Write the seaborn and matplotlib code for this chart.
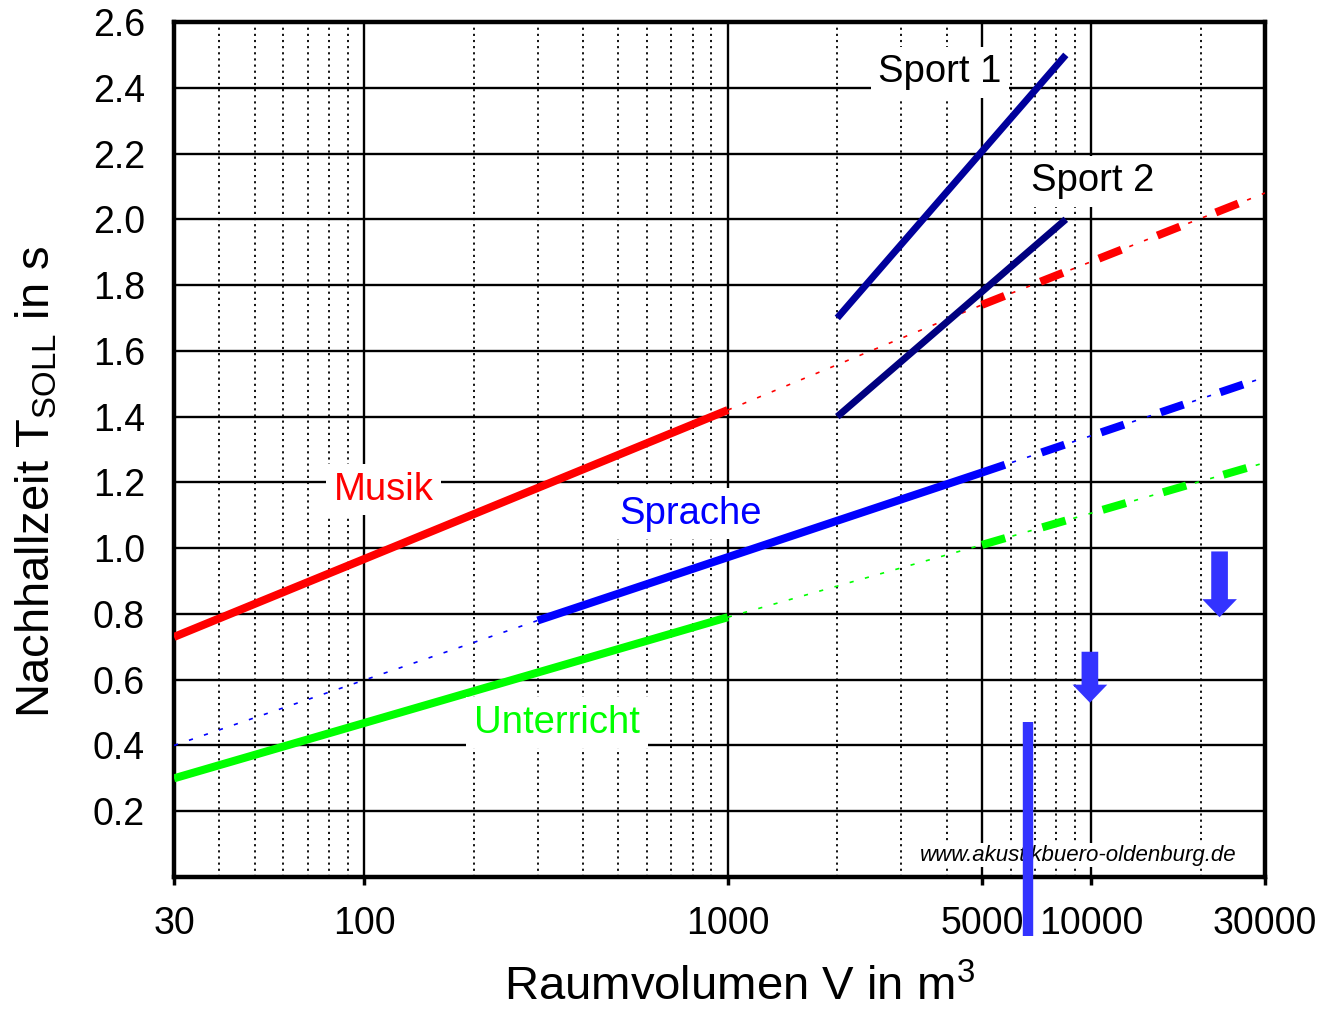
import numpy as np
import pandas as pd
import matplotlib
matplotlib.use("Agg")
import matplotlib.pyplot as plt
import seaborn as sns
from matplotlib.patches import FancyArrowPatch

# ---------------- data ----------------
V_MUSIK = [30, 1000, 5000, 30000]
T_MUSIK = [0.73, 1.42, 1.74, 2.08]
V_SPRACHE = [30, 300, 5000, 30000]
T_SPRACHE = [0.40, 0.78, 1.23, 1.52]
V_UNTERRICHT = [30, 1000, 5000, 30000]
T_UNTERRICHT = [0.30, 0.79, 1.01, 1.26]
V_SPORT1 = [2000, 8500]
T_SPORT1 = [1.70, 2.50]
V_SPORT2 = [2000, 8500]
T_SPORT2 = [1.40, 2.00]

X_TICKS = [30, 100, 1000, 5000, 10000, 30000]
X_TICKLABELS = ["30", "100", "1000", "5000", "10000", "30000"]
Y_TICKS = [0.2, 0.4, 0.6, 0.8, 1.0, 1.2, 1.4, 1.6, 1.8, 2.0, 2.2, 2.4, 2.6]

# arrows: (x, y_start, y_end)
ARROWS = [(22500, 0.99, 0.79), (9900, 0.685, 0.53)]
BAR = (6680, 0.47, -0.18)

# ---------------- style ----------------
sns.set_theme(style="white")
plt.rcParams["font.family"] = ["Liberation Sans", "DejaVu Sans"]
plt.rcParams["mathtext.fontset"] = "custom"
plt.rcParams["mathtext.rm"] = "Liberation Sans"
plt.rcParams["mathtext.it"] = "Liberation Sans:italic"
for k in ["text.color", "axes.labelcolor", "xtick.color", "ytick.color"]:
    plt.rcParams[k] = "black"

fig = plt.figure(figsize=(13.2, 10.1), dpi=100)
ax = fig.add_axes([174 / 1320, 1 - 877 / 1010, (1265 - 174) / 1320, (877 - 22) / 1010])
ax.set_xscale("log")
ax.set_xlim(30, 30000)
ax.set_ylim(0, 2.6)

# grid
minor = [m * 10 ** e for e in range(1, 5) for m in range(2, 10)]
minor = [v for v in minor if 30 < v < 30000 and v not in (100, 1000, 5000, 10000)]
ax.set_xticks(X_TICKS)
ax.set_xticklabels(X_TICKLABELS)
ax.set_xticks(minor, minor=True)
ax.set_yticks(Y_TICKS)
ax.set_yticklabels([f"{v:.1f}" for v in Y_TICKS])
for v in minor:
    ax.axvline(v, color="black", lw=1.3, ls=(0, (1.2, 2.2)), zorder=1)
for v in [100, 1000, 5000, 10000]:
    ax.axvline(v, color="black", lw=1.7, zorder=1)
for v in Y_TICKS[:-1]:
    ax.axhline(v, color="black", lw=1.7, zorder=1)

ax.tick_params(axis="x", which="major", direction="out", length=6, width=2.5,
               labelsize=27, pad=15, colors="black", bottom=True)
ax.tick_params(axis="x", which="minor", length=0)
ax.tick_params(axis="y", which="major", length=0, labelsize=27, pad=21, colors="black")
for s in ax.spines.values():
    s.set_color("black")
    s.set_linewidth(3.2)


def seg(xs, ys, color, kind, lw=5.8):
    df = pd.DataFrame({"V": xs, "T": ys})
    if kind == "solid":
        sns.lineplot(data=df, x="V", y="T", ax=ax, color=color, lw=lw,
                     estimator=None, sort=False, solid_capstyle="butt", zorder=3)
    elif kind == "dotted":
        sns.lineplot(data=df, x="V", y="T", ax=ax, color=color, lw=1.2,
                     estimator=None, sort=False, linestyle=(0, (2.5, 7)), zorder=3)
    else:
        sns.lineplot(data=df, x="V", y="T", ax=ax, color=color, lw=1.2,
                     estimator=None, sort=False, linestyle=(0, (2.5, 7)), zorder=3)
        sns.lineplot(data=df, x="V", y="T", ax=ax, color=color, lw=lw,
                     estimator=None, sort=False, linestyle=(0, (3.0, 4.8)),
                     dash_capstyle="butt", zorder=3)


for xs, ys, col in [(V_MUSIK, T_MUSIK, "#ff0000"),
                    (V_UNTERRICHT, T_UNTERRICHT, "#00ff00"),
                    (V_SPRACHE, T_SPRACHE, "#0000ff")]:
    seg(xs[0:2], ys[0:2], col, "dotted" if xs[1] == 300 else "solid")
    seg(xs[1:3], ys[1:3], col, "solid" if xs[1] == 300 else "dotted")
    seg(xs[2:4], ys[2:4], col, "dashed")

seg(V_SPORT1, T_SPORT1, "#00009c", "solid", lw=5.0)
seg(V_SPORT2, T_SPORT2, "#000080", "solid", lw=5.0)

# labels
box = dict(facecolor="white", edgecolor="none", boxstyle="square,pad=0.2")
ax.text(113, 1.178, "Musik", color="#ff0000", fontsize=27.5, ha="center", va="center", bbox=box, zorder=4)
ax.text(787, 1.105, "Sprache", color="#0000ff", fontsize=27.5, ha="center", va="center", bbox=box, zorder=4)
ax.text(339, 0.469, "Unterricht", color="#00ff00", fontsize=27.5, ha="center", va="center", bbox=box, zorder=4)
ax.text(3830, 2.447, "Sport 1", color="black", fontsize=27.5, ha="center", va="center", bbox=box, zorder=4)
ax.text(10100, 2.115, "Sport 2", color="black", fontsize=27.5, ha="center", va="center", bbox=box, zorder=4)
ax.text(0.829, 0.0257, "www.akustikbuero-oldenburg.de", transform=ax.transAxes,
        fontsize=16, style="italic", color="black", ha="center", va="center",
        bbox=dict(facecolor="white", edgecolor="none", pad=1), zorder=4)

# arrows
for x, y0, y1 in ARROWS:
    arr = FancyArrowPatch((x, y0), (x, y1), arrowstyle="simple,head_length=13,head_width=25,tail_width=12",
                          mutation_scale=1, color="#3333ff", lw=0, zorder=5, shrinkA=0, shrinkB=0)
    ax.add_patch(arr)
ax.plot([BAR[0], BAR[0]], [BAR[1], BAR[2]], color="#3333ff", lw=7.5,
        solid_capstyle="butt", clip_on=False, zorder=10)

ax.set_xlabel("")
ax.set_ylabel("")
fig.text(0.56, 0.022, "Raumvolumen V in m$^3$", fontsize=34, ha="center", va="center")
fig.text(0.028, 0.523, "Nachhallzeit T$_\\mathrm{SOLL}$ in s", fontsize=34, rotation=90,
         ha="center", va="center")

fig.savefig("out.png", dpi=100, facecolor="white")
